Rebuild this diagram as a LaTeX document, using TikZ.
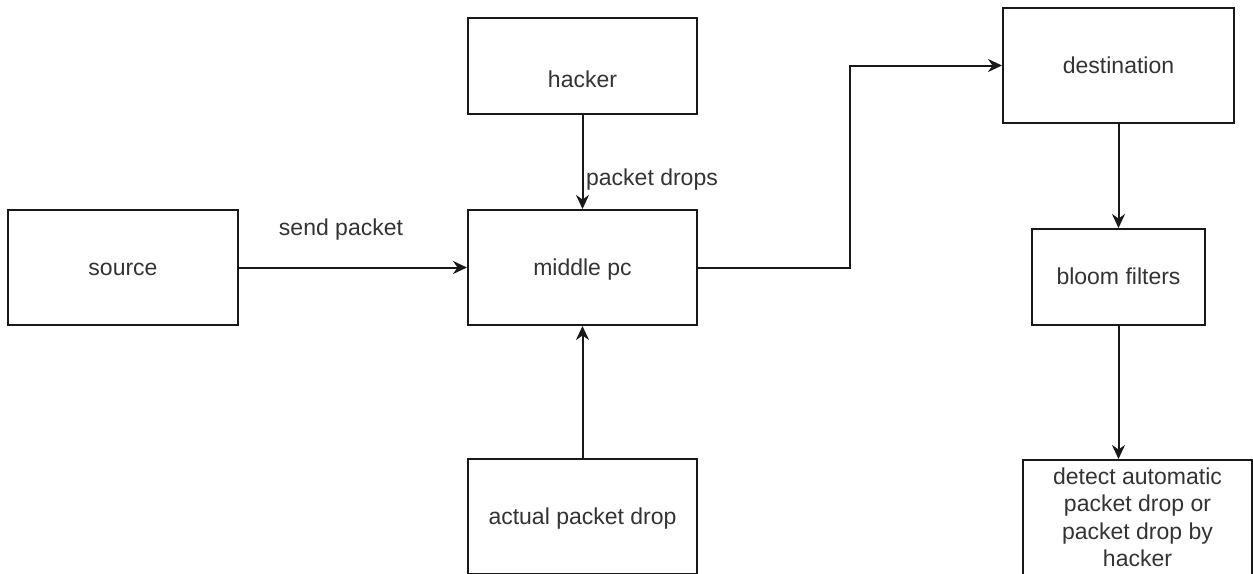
\documentclass[tikz,border=0pt]{standalone}
\usepackage{fontspec}
\setmainfont{Liberation Sans}
\usetikzlibrary{arrows.meta,calc}

\begin{document}
\begin{tikzpicture}[
  x=1pt, y=-1pt,
  every node/.style={font=\fontsize{23}{27.5}\selectfont, text=black!80},
  box/.style={draw=black!90, line width=2pt, rectangle, inner sep=0pt,
    text height=20pt, text depth=4.8pt},
  flow/.style={draw=black!90, line width=2pt,
    -{Stealth[length=14pt,width=13pt,inset=4.5pt]}},
  tag/.style={inner sep=0pt, text height=20pt, text depth=4.8pt}
]
\useasboundingbox (0,0) rectangle (1253,573);

% boxes
\node[box, minimum width=230pt, minimum height=115pt] (source) at (123,267.5) {source};
\node[box, minimum width=229pt, minimum height=96pt,
  label={[tag, yshift=-14pt]center:hacker}] (hacker) at (582.5,66) {};
\node[box, minimum width=229pt, minimum height=115pt] (middle) at (582.5,267.5) {middle pc};
\node[box, minimum width=229pt, minimum height=115pt] (actual) at (582.5,516.5) {actual packet drop};
\node[box, minimum width=231pt, minimum height=115pt] (dest) at (1118.5,65.5) {destination};
\node[box, minimum width=173pt, minimum height=96pt] (bloom) at (1118.5,277) {bloom filters};
\node[box, minimum width=229pt, minimum height=115pt, align=center,
  text height=, text depth=] (detect) at (1137.5,517.5)
  {detect automatic\\packet drop or\\packet drop by\\hacker};

% connectors
\draw[flow] (source.east) -- (middle.west);
\draw[flow] (hacker.south) -- (middle.north);
\draw[flow] (actual.north) -- (middle.south);
\draw[flow] (middle.east) -| ($(middle.east)!0.5!(dest.west)$) |- (dest.west);
\draw[flow] (dest.south -| bloom.north) -- (bloom.north);
\draw[flow] (bloom.south) -- (bloom.south |- detect.north);

% connector labels
\node[tag] (lblsend) at (341,228) {send packet};
\node[tag] (lbldrops) at (652,178) {packet drops};
\end{tikzpicture}
\end{document}
